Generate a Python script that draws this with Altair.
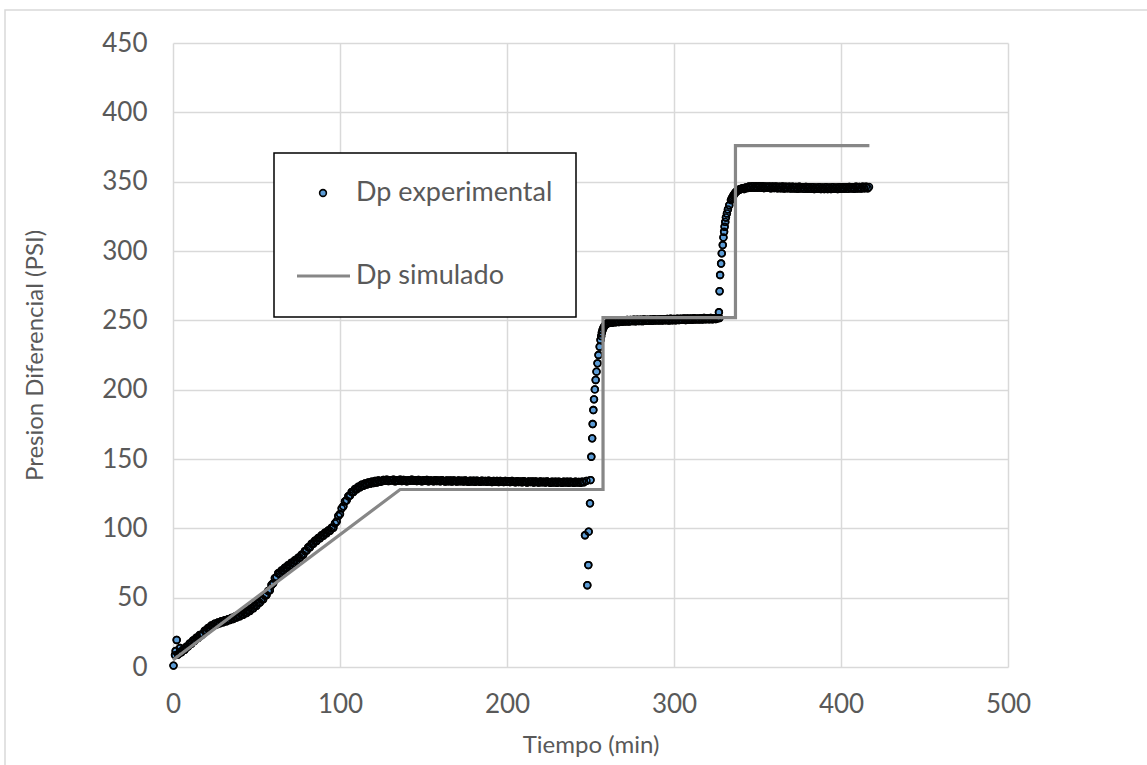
import altair as alt
import numpy as np
import pandas as pd

# ---------------- experimental differential pressure (PSI) ----------------
# start-up readings
start_t = [0.3, 1.2, 1.6, 2.2, 3.0, 4.2]
start_p = [1.0, 8.6, 11.5, 19.5, 9.0, 13.7]

# first ramp, one reading per minute from t = 4 to t = 124
ramp_t = np.arange(4, 125, 1)
ramp_p = [
    10.4, 10.6, 12.5, 12.4, 14.6, 14.7, 17.0, 16.8, 19.1, 18.9,
    21.1, 20.9, 23.1, 22.9, 24.0, 26.1, 26.0, 28.1, 28.0, 29.9,
    29.5, 31.3, 30.7, 32.2, 31.5, 33.0, 32.3, 33.8, 33.0, 34.4,
    33.8, 35.3, 34.6, 36.3, 35.6, 37.3, 36.6, 38.3, 37.7, 39.5,
    38.9, 40.8, 40.4, 42.5, 42.2, 44.4, 44.2, 46.5, 46.4, 48.8,
    48.9, 51.6, 51.9, 54.8, 55.4, 59.1, 60.4, 64.1, 64.9, 67.6,
    67.4, 69.6, 69.4, 71.6, 71.4, 73.5, 73.2, 75.3, 74.9, 77.0,
    76.7, 78.9, 78.7, 81.0, 80.9, 83.6, 83.9, 86.4, 86.4, 88.9,
    88.9, 91.1, 90.9, 93.1, 92.9, 95.0, 94.7, 96.8, 96.4, 98.5,
    98.2, 100.4, 100.4, 103.6, 104.9, 108.9, 110.4, 114.4, 115.9, 119.4,
    120.2, 123.2, 123.7, 126.2, 126.2, 128.4, 128.1, 130.1, 129.6, 131.4,
    130.7, 132.4, 131.6, 133.1, 132.2, 133.7, 132.7, 134.1, 133.1, 134.5,
    133.5,
]

# first plateau, one reading per minute
plat1_t = np.arange(125, 247, 1)
plat1_p = [
    134.0, 134.9, 134.2, 135.0, 134.1, 134.8, 134.4, 135.1, 134.0, 134.7,
    134.3, 135.0, 134.1, 134.9, 134.5, 134.0, 134.8, 134.3, 135.0, 134.2,
    134.7, 134.1, 134.9, 134.4, 133.9, 134.8, 134.2, 134.9, 134.0, 134.6,
    134.3, 133.9, 134.8, 134.1, 134.6, 133.9, 134.7, 134.2, 133.8, 134.6,
    134.0, 134.5, 133.8, 134.6, 134.1, 133.7, 134.5, 133.9, 134.4, 133.8,
    134.5, 133.9, 133.6, 134.4, 133.8, 134.3, 133.6, 134.4, 133.9, 133.5,
    134.3, 133.7, 134.2, 133.5, 134.3, 133.8, 133.4, 134.2, 133.6, 134.1,
    133.4, 134.2, 133.7, 133.3, 134.1, 133.5, 134.0, 133.3, 134.1, 133.6,
    133.2, 134.0, 133.4, 133.9, 133.2, 134.0, 133.5, 133.1, 133.9, 133.3,
    133.8, 133.1, 133.9, 133.4, 133.0, 133.8, 133.2, 133.7, 133.0, 133.8,
    133.3, 132.9, 133.7, 133.1, 133.6, 132.9, 133.7, 133.2, 132.8, 133.6,
    133.0, 133.6, 132.9, 133.7, 133.2, 132.8, 133.6, 133.0, 133.5, 132.9,
    133.6, 133.2,
]

# first pressure step
jump1_t = [246.7, 247.6, 248.1, 248.7, 248.9, 249.7, 250.0, 250.5, 251.0, 251.3,
           251.7, 252.1, 252.6, 253.1, 253.6, 254.2, 254.8, 255.5, 256.0, 256.4,
           256.8, 257.2, 257.7, 258.3, 259.0, 259.8, 260.4]
jump1_p = [95.0, 134.2, 59.0, 73.5, 97.6, 118.0, 134.8, 151.6, 164.9, 175.2,
           185.3, 193.0, 200.2, 207.0, 213.0, 219.0, 225.0, 231.0, 235.8, 238.6,
           241.0, 242.9, 244.5, 245.8, 246.8, 247.6, 248.1]

# second plateau, one reading per minute
plat2_t = np.arange(261, 327, 1)
plat2_p = [
    248.0, 248.9, 248.3, 249.4, 248.6, 249.7, 248.8, 249.9, 249.0, 250.1,
    249.2, 250.2, 249.1, 250.3, 249.4, 250.4, 249.3, 250.5, 249.5, 250.4,
    249.4, 250.6, 249.6, 250.5, 249.7, 250.7, 249.6, 250.8, 249.8, 250.7,
    249.8, 250.9, 249.9, 250.8, 250.0, 251.0, 249.9, 251.1, 250.1, 251.0,
    250.1, 251.2, 250.2, 251.1, 250.3, 251.3, 250.2, 251.4, 250.4, 251.3,
    250.4, 251.5, 250.5, 251.4, 250.6, 251.6, 250.5, 251.7, 250.7, 251.6,
    250.7, 251.7, 250.8, 251.6, 250.9, 251.5,
]

# second pressure step
jump2_t = [326.9, 327.2, 327.3, 327.6, 328.2, 328.6, 329.2, 329.6, 330.0, 330.3,
           330.7, 331.1, 331.7, 332.3, 333.1, 334.1, 334.6, 335.1, 335.6, 336.1,
           336.7, 337.3, 338.0, 338.5, 339.0, 339.5, 340.0, 340.5, 341.0, 341.5]
jump2_p = [255.8, 251.6, 271.0, 282.7, 291.0, 298.3, 304.3, 309.8, 313.9, 317.5,
           321.0, 324.2, 327.1, 330.0, 333.0, 336.7, 337.8, 339.0, 340.0, 341.0,
           342.0, 342.8, 343.5, 343.9, 344.2, 344.5, 344.7, 344.9, 345.0, 345.2]

# third plateau, one reading per minute, plus the final reading
plat3_t = list(np.arange(342, 417, 1)) + [416.8]
plat3_p = [
    344.7, 345.9, 345.4, 346.6, 345.6, 346.8, 345.5, 346.7, 345.6, 346.8,
    345.5, 346.7, 345.4, 346.6, 345.5, 346.5, 345.3, 346.6, 345.4, 346.5,
    345.2, 346.4, 345.3, 346.5, 345.1, 346.3, 345.2, 346.4, 345.0, 346.3,
    345.1, 346.2, 344.9, 346.3, 345.0, 346.1, 344.8, 346.2, 344.9, 346.0,
    344.8, 346.1, 344.7, 345.9, 344.8, 346.0, 344.7, 345.9, 344.6, 346.0,
    344.7, 345.9, 344.7, 346.0, 344.8, 345.9, 344.7, 346.1, 344.8, 346.0,
    344.9, 346.1, 344.8, 346.2, 345.0, 346.1, 344.9, 346.3, 345.1, 346.2,
    345.0, 346.4, 345.2, 346.3, 345.3,
    346.2,
]

# ---------------- simulated differential pressure ----------------
sim_t = [0, 136, 257.5, 257.5, 336.8, 336.8, 417]
sim_p = [5, 128, 128, 252, 252, 376, 376]

exp_df = pd.DataFrame({
    "t": list(start_t) + list(ramp_t) + list(plat1_t) + jump1_t + list(plat2_t) + jump2_t + plat3_t,
    "p": start_p + ramp_p + plat1_p + jump1_p + plat2_p + jump2_p + plat3_p,
})
sim_df = pd.DataFrame({"t": sim_t, "p": sim_p, "i": list(range(len(sim_t)))})
one = pd.DataFrame({"k": [0]})

W, H = 835, 624
FONT = "Lato"
GREY_TXT = "#595959"
GRID = "#d9d9d9"
SIM_GREY = "#878787"
DOT_FILL = "#5B9BD5"
DOT_SIZE = 46
DOT_EDGE = 1.6

x_enc = alt.X(
    "t:Q",
    scale=alt.Scale(domain=[0, 500], nice=False),
    axis=alt.Axis(
        values=[0, 100, 200, 300, 400, 500], grid=True, gridColor=GRID, gridWidth=1.5,
        domain=False, ticks=False, labelFlush=False, labelFont=FONT, labelFontSize=26,
        labelColor=GREY_TXT, labelPadding=24, title="Tiempo (min)", titleFont=FONT,
        titleFontSize=24, titleFontWeight="normal", titleColor=GREY_TXT, titleX=W / 2,
        titleY=78, titleAlign="center", titleBaseline="middle",
    ),
)
y_enc = alt.Y(
    "p:Q",
    scale=alt.Scale(domain=[0, 450], nice=False),
    axis=alt.Axis(
        values=[0, 50, 100, 150, 200, 250, 300, 350, 400, 450], grid=True, gridColor=GRID,
        gridWidth=1.5, domain=False, ticks=False, labelFlush=False, labelFont=FONT,
        labelFontSize=26, labelColor=GREY_TXT, labelPadding=26,
        title="Presion Diferencial (PSI)", titleFont=FONT, titleFontSize=24,
        titleFontWeight="normal", titleColor=GREY_TXT, titleX=-138, titleY=H / 2,
        titleAngle=270, titleAlign="center", titleBaseline="middle",
    ),
)

# outer chart frame
frame = alt.Chart(one).mark_rect(fill="white", fillOpacity=0, stroke=GRID, strokeWidth=1.5).encode(
    x=alt.value(-168), x2=alt.value(W + 200), y=alt.value(-33), y2=alt.value(H + 200)
)

# filled markers, then their outlines again on top so that densely
# sampled stretches read as a solid dark band
points = alt.Chart(exp_df).mark_circle(
    size=DOT_SIZE, fill=DOT_FILL, stroke="black", strokeWidth=DOT_EDGE, opacity=1
).encode(x=x_enc, y=y_enc)
outlines = alt.Chart(exp_df).transform_filter(alt.datum.t < 416.5).mark_point(
    shape="circle", filled=False, color="black", size=DOT_SIZE, strokeWidth=DOT_EDGE, opacity=1
).encode(x="t:Q", y="p:Q")

sim_line = alt.Chart(sim_df).mark_line(color=SIM_GREY, strokeWidth=3.2).encode(
    x="t:Q", y="p:Q", order="i:Q"
)

# legend box
leg_box = alt.Chart(one).mark_rect(fill="white", stroke="black", strokeWidth=1.5).encode(
    x=alt.value(101), x2=alt.value(403), y=alt.value(110), y2=alt.value(274)
)
leg_dot = alt.Chart(one).mark_circle(
    size=DOT_SIZE, fill=DOT_FILL, stroke="black", strokeWidth=DOT_EDGE, opacity=1
).encode(x=alt.value(150), y=alt.value(150))
leg_line = alt.Chart(one).mark_rule(color=SIM_GREY, strokeWidth=3.2).encode(
    x=alt.value(124), x2=alt.value(177), y=alt.value(233)
)
leg_txt1 = alt.Chart(one).mark_text(
    text="Dp experimental", align="left", baseline="middle", font=FONT, fontSize=27, color=GREY_TXT
).encode(x=alt.value(183), y=alt.value(150))
leg_txt2 = alt.Chart(one).mark_text(
    text="Dp simulado", align="left", baseline="middle", font=FONT, fontSize=27, color=GREY_TXT
).encode(x=alt.value(183), y=alt.value(233))

chart = alt.layer(
    frame, points, outlines, sim_line, leg_box, leg_dot, leg_line, leg_txt1, leg_txt2
).properties(
    width=W, height=H,
    autosize=alt.AutoSizeParams(type="none"),
    padding={"left": 173, "top": 43, "right": 139, "bottom": 98},
    background="white",
).configure_view(strokeWidth=0)

chart.save("out.html", embed_options={"renderer": "svg", "actions": False})
